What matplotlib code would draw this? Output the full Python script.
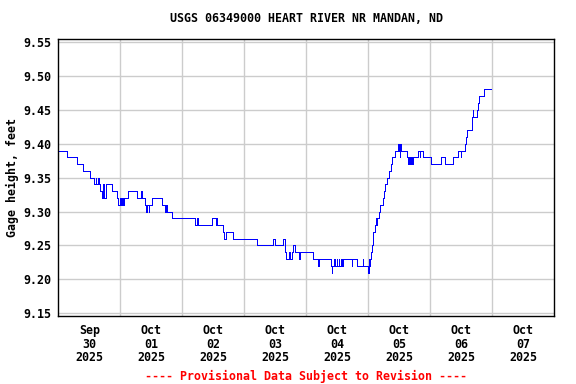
import numpy as np
import matplotlib
matplotlib.use("Agg")
import matplotlib.pyplot as plt

title = "USGS 06349000 HEART RIVER NR MANDAN, ND"
ylabel = "Gage height, feet"
footer = "---- Provisional Data Subject to Revision ----"

start = np.datetime64("2025-09-30T00:00")
hours = [0.0, 3.25, 7.4, 9.7, 12.4, 13.8, 14.5, 14.75, 15.5, 15.75, 16.1, 16.8,
         17.4, 17.65, 18.3, 20.9, 22.7, 23.2, 23.7, 24.3, 24.55, 25.1, 25.35,
         27.1, 30.3, 32.0, 32.5, 33.6, 34.1, 34.35, 35.0, 35.25, 36.1,
         40.0, 41.3, 41.6, 41.9, 44.1, 52.9, 53.6, 54.2, 59.5, 60.9, 61.3, 61.6,
         63.6, 64.1, 64.8, 67.8, 76.8, 83.2, 83.9, 87.1, 87.8, 88.1, 89.4, 89.7,
         90.4, 90.7, 91.6, 93.3, 93.6, 98.5, 100.7, 100.95, 105.6, 105.85,
         106.1, 106.9, 107.15, 107.8, 108.05, 108.6, 108.85, 109.4, 109.65, 110.3,
         113.6, 113.85, 115.5, 117.8, 118.05, 120.0, 120.3, 120.6, 120.8, 121.2,
         121.6, 121.9, 122.5, 122.9, 123.1, 123.3, 124.3, 124.5, 125.6, 126.1,
         126.6, 127.1, 128.1, 128.7, 129.3, 130.3, 131.6, 131.85, 132.1, 132.35,
         132.6, 134.9, 135.5, 135.75, 136.0, 136.5, 136.75, 137.2, 139.4,
         139.9, 140.15, 141.3, 144.2, 148.0, 149.6, 152.9, 154.9,
         155.8, 156.0, 157.4, 157.8, 158.3, 160.0, 160.4, 160.6, 161.9, 162.3,
         163.0, 164.8, 167.4]
gage = [9.39, 9.38, 9.37, 9.36, 9.35, 9.34, 9.35, 9.34, 9.35, 9.34, 9.33, 9.32,
        9.34, 9.32, 9.34, 9.33, 9.32, 9.31, 9.32, 9.31, 9.32, 9.31, 9.32,
        9.33, 9.32, 9.33, 9.32, 9.31, 9.30, 9.31, 9.30, 9.31, 9.32,
        9.31, 9.30, 9.31, 9.30, 9.29, 9.28, 9.29, 9.28, 9.29, 9.28, 9.29, 9.28,
        9.27, 9.26, 9.27, 9.26, 9.25, 9.26, 9.25, 9.26, 9.24, 9.23, 9.24, 9.23,
        9.24, 9.25, 9.24, 9.23, 9.24, 9.23, 9.22, 9.23, 9.22, 9.21,
        9.22, 9.23, 9.22, 9.23, 9.22, 9.23, 9.22, 9.23, 9.22, 9.23,
        9.22, 9.23, 9.22, 9.23, 9.22, 9.21, 9.23, 9.22, 9.23, 9.24,
        9.25, 9.27, 9.28, 9.29, 9.28, 9.29, 9.30, 9.31, 9.32, 9.33,
        9.34, 9.35, 9.36, 9.37, 9.38, 9.39, 9.40, 9.39, 9.38, 9.40,
        9.39, 9.38, 9.37, 9.38, 9.37, 9.38, 9.37, 9.38, 9.39,
        9.38, 9.39, 9.38, 9.37, 9.38, 9.37, 9.38, 9.39,
        9.38, 9.39, 9.40, 9.41, 9.42, 9.44, 9.45, 9.44, 9.45, 9.46,
        9.47, 9.48, 9.48]

tick_days = ["2025-09-30", "2025-10-01", "2025-10-02", "2025-10-03",
             "2025-10-04", "2025-10-05", "2025-10-06", "2025-10-07"]
tick_labels = ["Sep\n30\n2025", "Oct\n01\n2025", "Oct\n02\n2025", "Oct\n03\n2025",
               "Oct\n04\n2025", "Oct\n05\n2025", "Oct\n06\n2025", "Oct\n07\n2025"]
yticks = [9.15, 9.20, 9.25, 9.30, 9.35, 9.40, 9.45, 9.50, 9.55]

plt.rcParams['font.family'] = ['DejaVu Sans Mono']
plt.rcParams['font.weight'] = 'bold'
FS = 8.4

fig = plt.figure(figsize=(5.76, 3.84), dpi=100)
ax = fig.add_axes([58.3 / 576, (384 - 315.7) / 384, 496 / 576, 276.4 / 384])

times = start + (np.array(hours) * 60).astype("timedelta64[m]")
times = times.astype("datetime64[ms]").astype(object)
ax.plot(times, gage, drawstyle="steps-post", color="#0000ff", lw=0.5,
        antialiased=False)

x0 = np.datetime64("2025-09-30T00:00").astype(object)
x1 = np.datetime64("2025-10-08T00:00").astype(object)
ax.set_xlim(x0, x1)
ax.set_ylim(9.1465, 9.554)

days = [np.datetime64(d + "T00:00") for d in tick_days]
mid = [(d + np.timedelta64(12, "h")).astype(object) for d in days]
grid_days = [(d + np.timedelta64(1, "D")).astype(object) for d in days[:-1]]
ax.set_xticks(grid_days)
ax.set_xticklabels([])
ax.set_xticks(mid, minor=True)
ax.set_xticklabels(tick_labels, minor=True, fontsize=FS, fontweight='bold',
                   linespacing=1.05)
ax.tick_params(axis='x', which='both', length=0)
ax.tick_params(axis='x', which='minor', pad=6)
ax.set_yticks(yticks)
ax.set_yticklabels([f"{v:.2f}" for v in yticks], fontsize=FS, fontweight='bold')
ax.tick_params(axis='y', length=0, pad=5)

ax.grid(True, which='major', color='#cccccc', lw=1.0)
ax.set_axisbelow(True)
for s in ax.spines.values():
    s.set_color('black')
    s.set_linewidth(1.0)

ax.set_ylabel(ylabel, fontsize=FS, fontweight='bold', labelpad=3)
fig.text(306 / 576, 1 - 19 / 384, title, ha='center', va='center',
         fontsize=FS, fontweight='bold')
fig.text(306 / 576, 1 - 376 / 384, footer, ha='center', va='center',
         fontsize=FS, fontweight='bold', color='#ff0000')

fig.savefig("out.png", dpi=100)
